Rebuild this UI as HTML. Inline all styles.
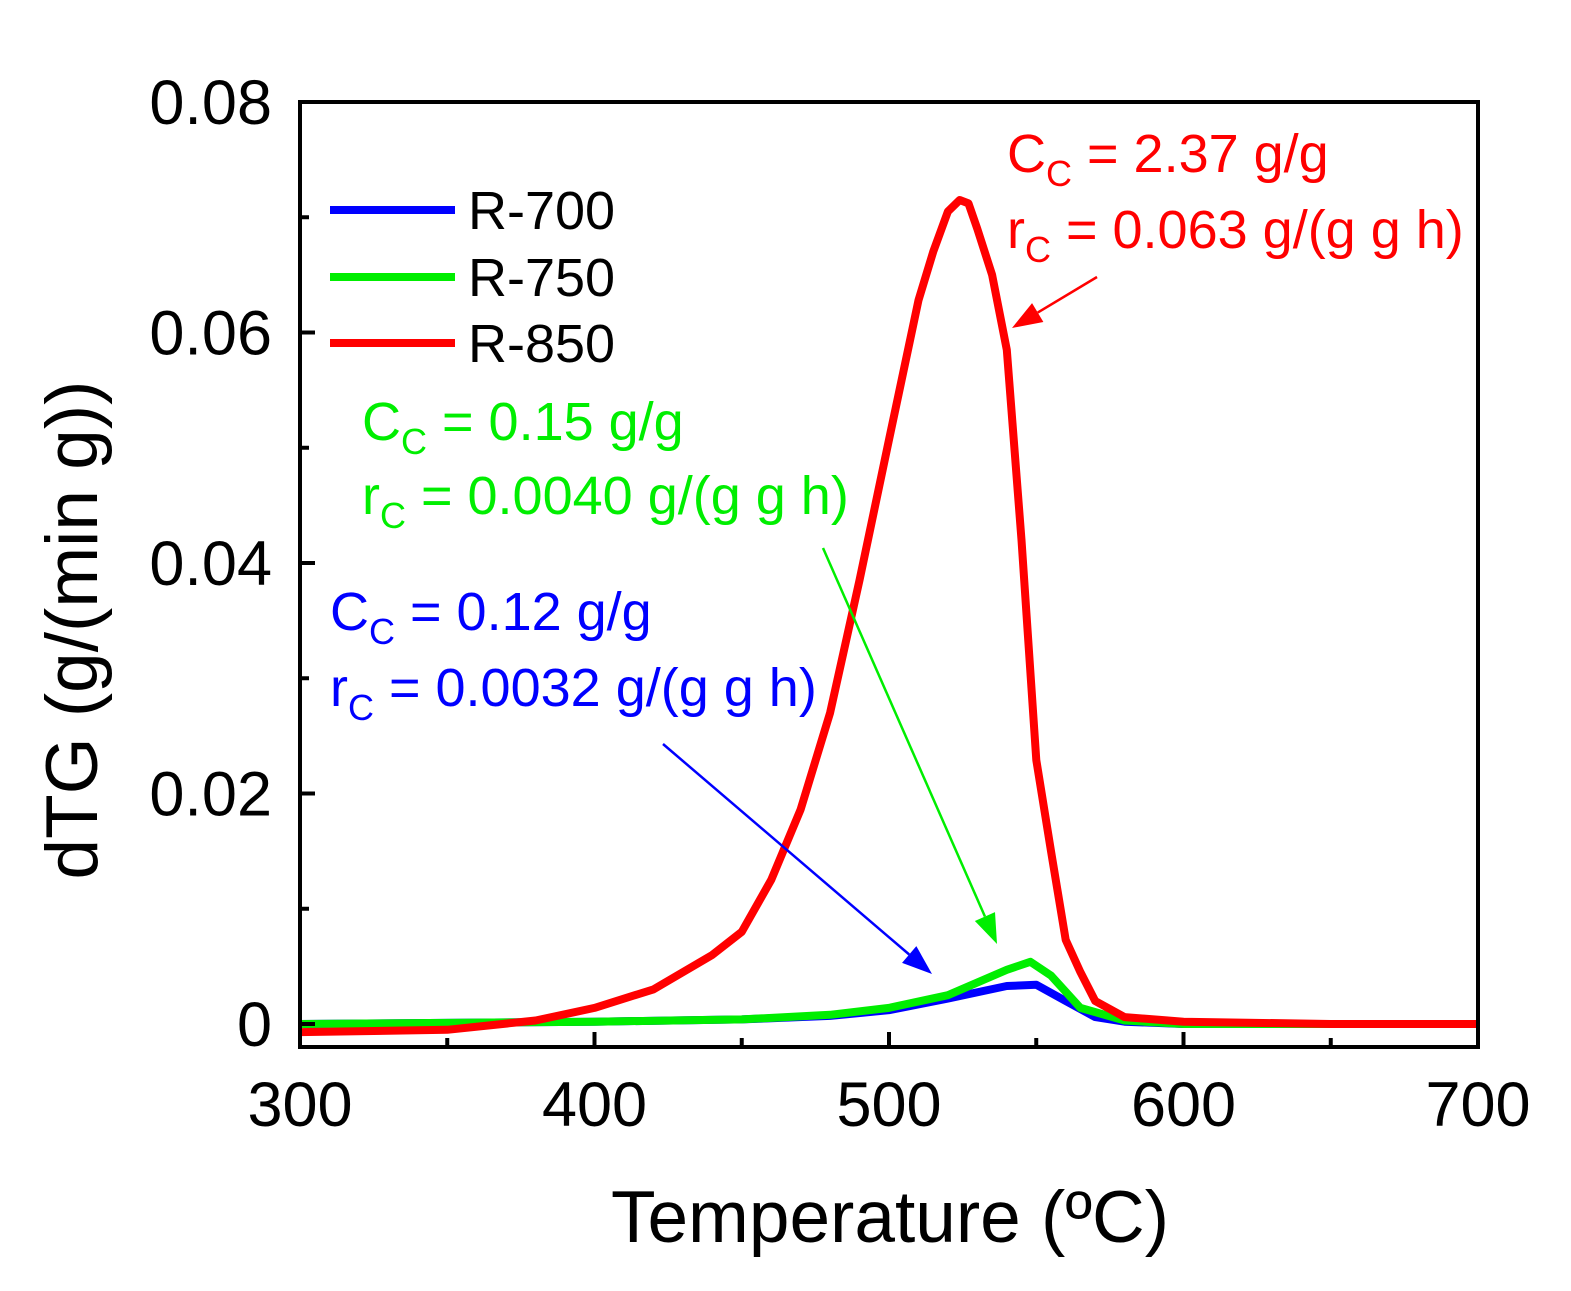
<!DOCTYPE html>
<html><head><meta charset="utf-8"><style>
body{margin:0;background:#fff}
svg{display:block;font-family:"Liberation Sans",Arial,sans-serif}
</style></head><body>
<svg id="chart" width="1571" height="1291" viewBox="0 0 1571 1291" xmlns="http://www.w3.org/2000/svg">
<g id="plot"></g>
</svg>
<script>
const xTicks=[300,400,500,600,700];
const yTicks=[0,0.02,0.04,0.06,0.08];
const yTickLabels=["0","0.02","0.04","0.06","0.08"];
const redT=[300,350,380,400,420,440,450,460,470,480,490,500,510,515,520,524,527,530,535,540,545,550,555,560,565,570,580,600,650,700];
const redV=[-0.0007,-0.0005,0.0003,0.0014,0.003,0.006,0.008,0.0125,0.0186,0.027,0.0385,0.0507,0.0628,0.067,0.0705,0.0715,0.0712,0.069,0.065,0.0585,0.042,0.0229,0.015,0.0073,0.0045,0.002,0.0006,0.0002,0,0];
const greenT=[300,400,450,480,500,520,540,548,555,565,580,600,700];
const greenV=[0,0.0002,0.0004,0.0008,0.0014,0.0025,0.0047,0.0054,0.0042,0.0014,0.0003,0,0];
const blueT=[300,400,450,480,500,520,540,550,560,570,580,600,700];
const blueV=[0,0.0002,0.0004,0.0007,0.0012,0.0022,0.0033,0.0034,0.002,0.0006,0.0002,0,0];

const L=300,R=1478,T=102,B=1047;
const X=t=>L+(t-300)/400*(R-L);
const Y=v=>1024-v/0.08*(1024-T);
const NS="http://www.w3.org/2000/svg";
const plot=document.getElementById('plot');
function mk(tag,attrs,parent){const e=document.createElementNS(NS,tag);for(const k in attrs)e.setAttribute(k,attrs[k]);(parent||plot).appendChild(e);return e;}

function series(ts,vs,color,name){
  const p=mk('path',{d:ts.map((t,i)=>(i?'L':'M')+X(t).toFixed(1)+','+Y(vs[i]).toFixed(1)).join(''),fill:'none',stroke:color,'stroke-width':8,'stroke-linejoin':'round'});
  
  
}
series(blueT,blueV,'#0000ff','series-r700');
series(greenT,greenV,'#00ee00','series-r750');
series(redT,redV,'#ff0000','series-r850');

const fr=mk('rect',{x:L,y:T,width:R-L,height:B-T,fill:'none',stroke:'#000','stroke-width':4});



for(let t=300;t<=700;t+=50){
  const maj=t%100===0;
  const tk=mk('line',{x1:X(t),x2:X(t),y1:B,y2:B-(maj?15:9),stroke:'#000','stroke-width':4});
  
  
}
xTicks.forEach(t=>{
  const tx=mk('text',{x:X(t),y:1126,'font-size':63,'text-anchor':'middle'});tx.textContent=t;
  
  
});
for(let v=0;v<=0.0801;v+=0.01){
  const maj=Math.round(v*100)%2===0;
  const tk=mk('line',{x1:L,x2:L+(maj?15:9),y1:Y(v),y2:Y(v),stroke:'#000','stroke-width':4});
  
  
}
yTicks.forEach((v,i)=>{
  const tx=mk('text',{x:272,y:Y(v)+22,'font-size':63,'text-anchor':'end'});tx.textContent=yTickLabels[i];
  
  
});
const xt=mk('text',{x:890,y:1242,'font-size':73,'text-anchor':'middle'});xt.textContent='Temperature (ºC)';


const yt=mk('text',{x:97,y:630,'font-size':73,'text-anchor':'middle',transform:'rotate(-90 97 630)'});yt.textContent='dTG (g/(min g))';



[['R-700','#0000ff',210],['R-750','#00ee00',277],['R-850','#ff0000',343]].forEach(([n,c,y])=>{
  const ln=mk('line',{x1:330,x2:455,y1:y,y2:y,stroke:c,'stroke-width':8});
  
  
  const tx=mk('text',{x:468,y:y+19,'font-size':54});tx.textContent=n;
  
  
});

function ann(x,y,color,main,rest,name){
  const tx=mk('text',{x:x,y:y,'font-size':54,fill:color});
  tx.innerHTML=main+'<tspan font-size="36" dy="14">C</tspan><tspan dy="-14">'+rest+'</tspan>';
  
  
}
ann(1007,172,'#ff0000','C',' = 2.37 g/g','red-cc-label');
ann(1007,248,'#ff0000','r',' = 0.063 g/(g g h)','red-rc-label');
ann(362,440,'#00ee00','C',' = 0.15 g/g','green-cc-label');
ann(362,514,'#00ee00','r',' = 0.0040 g/(g g h)','green-rc-label');
ann(330,630,'#0000ff','C',' = 0.12 g/g','blue-cc-label');
ann(330,706,'#0000ff','r',' = 0.0032 g/(g g h)','blue-rc-label');

function arrow(x1,y1,x2,y2,c,name){
  const a=Math.atan2(y2-y1,x2-x1),h=30,w=11;
  const bx=x2-h*Math.cos(a),by=y2-h*Math.sin(a);
  const ln=mk('line',{x1:x1,y1:y1,x2:bx,y2:by,stroke:c,'stroke-width':2.5});
  
  
  const hd=mk('polygon',{points:`${x2},${y2} ${bx+w*Math.sin(a)},${by-w*Math.cos(a)} ${bx-w*Math.sin(a)},${by+w*Math.cos(a)}`,fill:c});
  
  
}
arrow(1097,277,1012,328,'#ff0000','red-arrow');
arrow(823,548,997,944,'#00ee00','green-arrow');
arrow(663,744,932,974,'#0000ff','blue-arrow');
</script>
</body></html>
